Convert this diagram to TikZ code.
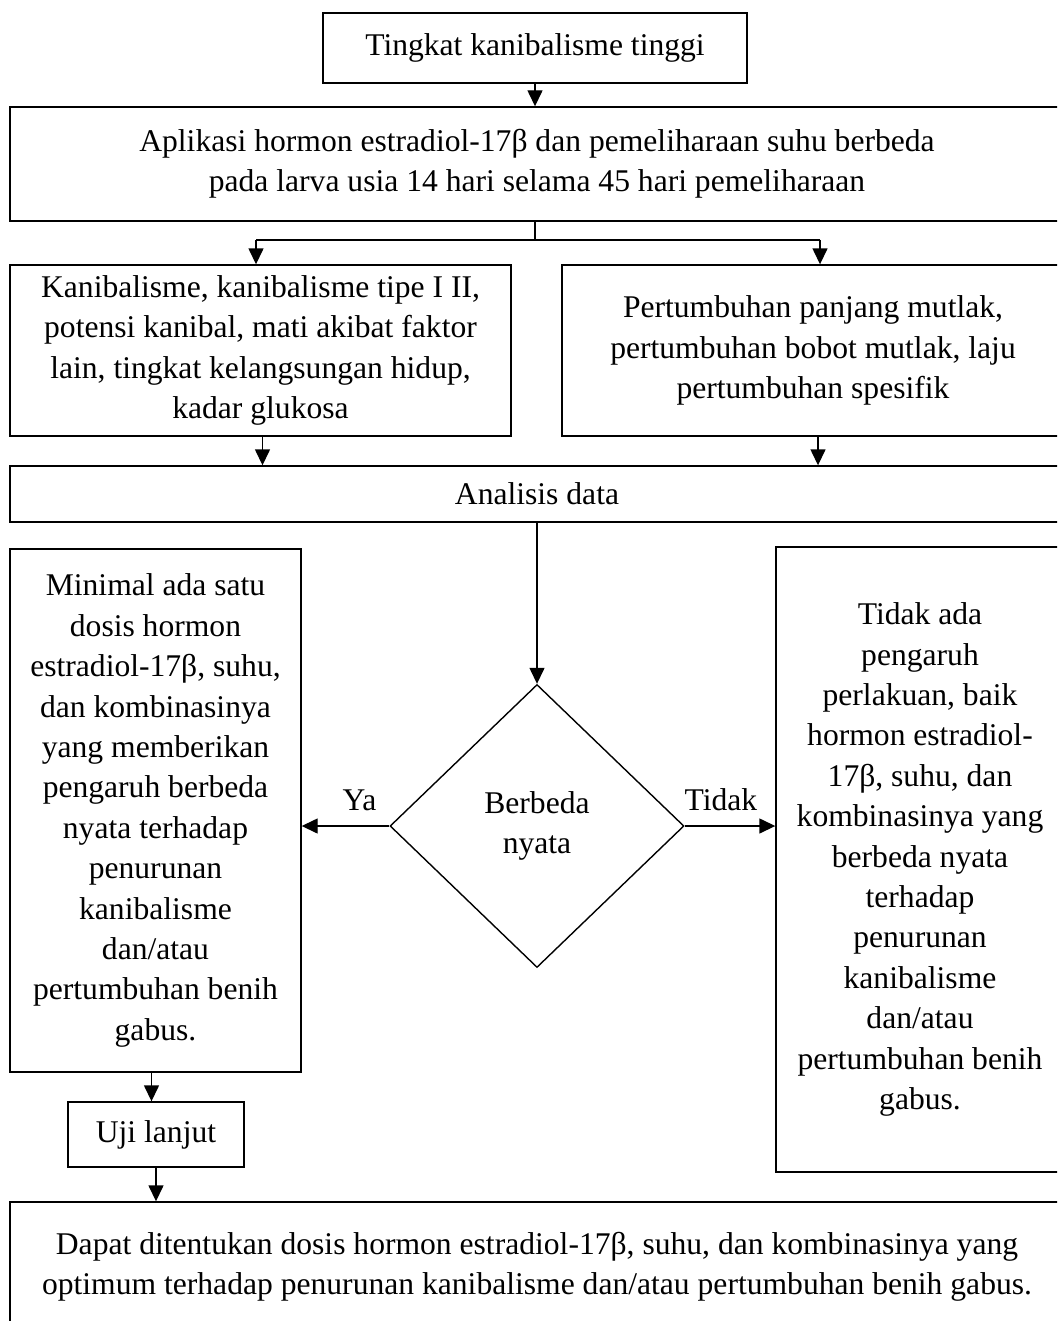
\documentclass[tikz,border=0pt]{standalone}
\usepackage{fontspec}
\setmainfont{Liberation Serif}
\usetikzlibrary{shapes,arrows.meta,positioning}

\tikzset{
  box/.style={draw, line width=0.7pt, align=center, inner sep=0pt},
  link/.style={line width=0.7pt},
  arr/.style={line width=0.7pt, -{Triangle[length=8pt,width=7.5pt]}}
}

\begin{document}
\begin{tikzpicture}[x=0.5pt, y=-0.5pt, font=\fontsize{15.8}{20.2}\selectfont]
\useasboundingbox (0,0) rectangle (1057,1321);
\clip (0,0) rectangle (1057,1321);
\node[box, minimum width=212pt, minimum height=35pt] (top) at (535,48) {Tingkat kanibalisme tinggi};
\node[box, minimum width=527pt, minimum height=57pt] (aplikasi) at (537,164) {Aplikasi hormon estradiol-17β dan pemeliharaan suhu berbeda\\pada larva usia 14 hari selama 45 hari pemeliharaan};
\node[box, minimum width=250.5pt, minimum height=85.5pt] (kanib) at (260.5,350.5) {Kanibalisme, kanibalisme tipe I II,\\potensi kanibal, mati akibat faktor\\lain, tingkat kelangsungan hidup,\\kadar glukosa};
\node[box, minimum width=251pt, minimum height=85.5pt] (tumbuh) at (813,350.5) {Pertumbuhan panjang mutlak,\\pertumbuhan bobot mutlak, laju\\pertumbuhan spesifik};
\node[box, minimum width=527pt, minimum height=28pt] (analisis) at (537,494) {Analisis data};
\node[box, diamond, minimum width=147pt, minimum height=141.5pt] (beda) at (537,826) {Berbeda\\nyata};
\node[box, minimum width=145.5pt, minimum height=261.5pt] (ya) at (155.5,810.5) {Minimal ada satu\\dosis hormon\\estradiol-17β, suhu,\\dan kombinasinya\\yang memberikan\\pengaruh berbeda\\nyata terhadap\\penurunan\\kanibalisme\\dan/atau\\pertumbuhan benih\\gabus.};
\node[box, minimum width=144pt, minimum height=312.5pt] (tidak) at (920,859.5) {Tidak ada\\pengaruh\\perlakuan, baik\\hormon estradiol-\\17β, suhu, dan\\kombinasinya yang\\berbeda nyata\\terhadap\\penurunan\\kanibalisme\\dan/atau\\pertumbuhan benih\\gabus.};
\node[box, minimum width=88pt, minimum height=32.5pt] (uji) at (156,1134.5) {Uji lanjut};
\node[box, minimum width=527pt, minimum height=65pt] (akhir) at (537,1267) {Dapat ditentukan dosis hormon estradiol-17β, suhu, dan kombinasinya yang\\optimum terhadap penurunan kanibalisme dan/atau pertumbuhan benih gabus.};
\coordinate (cabang) at (535,240);
\coordinate (cabangL) at (256,240);
\coordinate (cabangR) at (820,240);
\draw[arr] (top.south) -- (top.south |- aplikasi.north);
\draw[link] (aplikasi.south -| cabang) -- (cabang);
\draw[link] (cabangL) -- (cabangR);
\draw[arr] (cabangL) -- (cabangL |- kanib.north);
\draw[arr] (cabangR) -- (cabangR |- tumbuh.north);
\draw[arr] ([xshift=1pt]kanib.south) -- ([xshift=1pt]kanib.south |- analisis.north);
\draw[arr] ([xshift=2.5pt]tumbuh.south) -- ([xshift=2.5pt]tumbuh.south |- analisis.north);
\draw[arr] (analisis.south) -- (beda.north);
\draw[arr] (beda.west) -- (beda.west -| ya.east) node[pos=0.34, above=4pt] {Ya};
\draw[arr] (beda.east) -- (beda.east -| tidak.west) node[pos=0.4, above=4pt] {Tidak};
\draw[arr] ([xshift=-2pt]ya.south) -- ([xshift=-2pt]ya.south |- uji.north);
\draw[arr] (uji.south) -- (uji.south |- akhir.north);
\end{tikzpicture}
\end{document}
